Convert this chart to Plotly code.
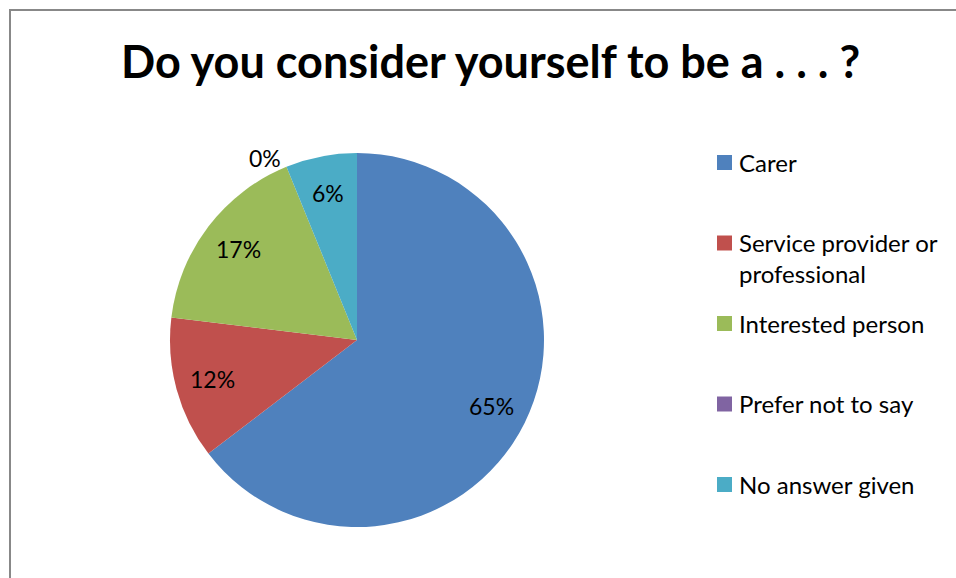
import math
import textwrap
import plotly.graph_objects as go

# ---- data ----
labels = ["Carer", "Service provider or professional", "Interested person",
          "Prefer not to say", "No answer given"]
counts = [42, 8, 11, 0, 4]
colors = ["#4F81BD", "#C0504D", "#9BBB59", "#8064A2", "#4BACC6"]
title_text = "Do you consider yourself to be a . . . ?"

W, H = 956, 578
FONT = "Lato, Calibri, Carlito, sans-serif"

def px(x):
    return x / W

def py(y):
    return 1 - y / H

# pie geometry (pixels)
cx, cy, r = 357, 340, 187

fig = go.Figure(go.Pie(
    labels=labels,
    values=counts,
    sort=False,
    direction="clockwise",
    rotation=0,
    marker=dict(colors=colors, line=dict(width=0)),
    textinfo="none",
    showlegend=False,
    domain=dict(x=[px(cx - r), px(cx + r)], y=[py(cy + r), py(cy - r)]),
    hoverinfo="label+percent",
))

shapes = [dict(type="rect", xref="paper", yref="paper",
               x0=px(10), x1=px(W + 20), y0=py(H + 20), y1=py(10),
               line=dict(color="#888888", width=2), fillcolor="rgba(0,0,0,0)")]
annotations = [dict(text="<b>" + title_text + "</b>", xref="paper", yref="paper",
                    x=px(490), y=py(61), xanchor="center", yanchor="middle",
                    showarrow=False, font=dict(family=FONT, size=45, color="#000000"))]

# data labels (percent), placed along each slice's mid-angle
total = sum(counts)
cum = 0
for c in counts:
    frac = c / total
    mid = 2 * math.pi * (cum + frac / 2)
    cum += frac
    txt = f"{round(frac * 100)}%"
    if c > 0:
        rr = 0.8 * r
        xa = "center"
    else:
        rr = 1.05 * r
        xa = "right" if math.sin(mid) < 0 else "left"
    x = cx + rr * math.sin(mid)
    y = cy - rr * math.cos(mid)
    annotations.append(dict(text=txt, xref="paper", yref="paper",
                            x=px(x), y=py(y), xanchor=xa, yanchor="middle",
                            showarrow=False,
                            font=dict(family=FONT, size=23, color="#000000")))

# manual legend
leg_x, leg_y0, leg_step, sq = 717, 162.5, 80.5, 15
for i, (lab, col) in enumerate(zip(labels, colors)):
    yc = leg_y0 + leg_step * i
    shapes.append(dict(type="rect", xref="paper", yref="paper",
                       x0=px(leg_x), x1=px(leg_x + sq),
                       y0=py(yc + sq / 2), y1=py(yc - sq / 2),
                       line=dict(width=0), fillcolor=col))
    wrapped = "<br>".join(textwrap.wrap(lab, 19))
    annotations.append(dict(text=wrapped, xref="paper", yref="paper",
                            x=px(leg_x + sq + 5), y=py(yc - 17),
                            xanchor="left", yanchor="top", align="left",
                            showarrow=False,
                            font=dict(family=FONT, size=24, color="#000000")))

fig.update_layout(
    width=W, height=H,
    margin=dict(l=0, r=0, t=0, b=0),
    paper_bgcolor="#FFFFFF",
    plot_bgcolor="#FFFFFF",
    shapes=shapes,
    annotations=annotations,
)

fig.write_html("out.html",
               config={"displayModeBar": False},
               post_script="document.body.style.margin='0';"
                           "document.body.style.overflow='hidden';")
